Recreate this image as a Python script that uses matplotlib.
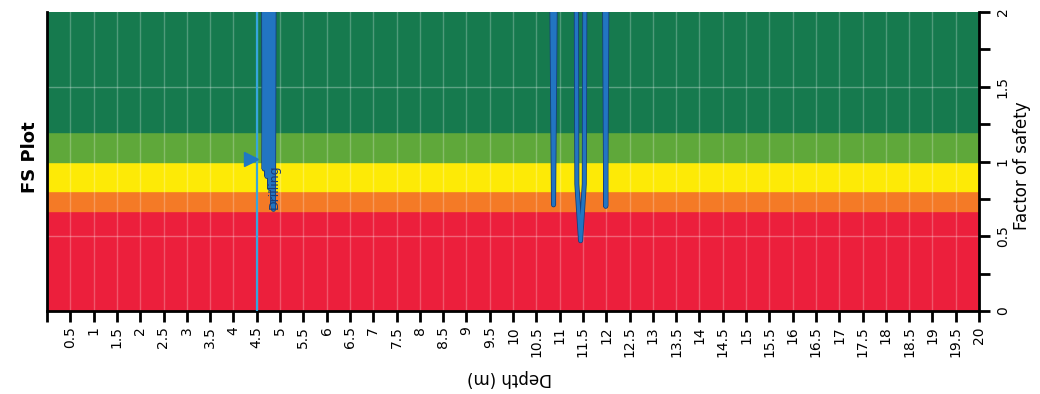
import numpy as np
import matplotlib.pyplot as plt
import matplotlib.patheffects as pe

# Factor-of-safety zones (FS limits and fill colours)
zone_edges = [0.0, 0.67, 0.8, 1.0, 1.2, 2.0]
zone_colors = ['#ec1f3c', '#f47a26', '#fdea06', '#5fa83a', '#167a4e']

# FS profile against depth; 3.0 means FS above the plotted range
depth = [4.64, 4.66, 4.69, 4.72, 4.75, 4.78, 4.81, 4.84, 4.86, 4.88,
         10.81, 10.87, 10.93,
         11.35, 11.37, 11.45, 11.53, 11.55,
         11.95, 11.99, 12.03]
fs = [3.0, 0.95, 2.6, 0.90, 2.6, 0.82, 2.5, 0.72, 0.68, 3.0,
      3.0, 0.71, 3.0,
      3.0, 0.85, 0.47, 0.85, 3.0,
      3.0, 0.70, 3.0]

gwt_depth = 4.5          # ground water table
gwt_label = 'Drilling'

depth_ticks = np.arange(0, 20.01, 0.5)
depth_labels = [''] + ['%g' % d for d in depth_ticks[1:]]
fs_ticks = [0, 0.5, 1, 1.5, 2]

fig = plt.figure(figsize=(10.4, 3.94), dpi=100)
ax = fig.add_axes([47 / 1040, 1 - 311 / 394, 932 / 1040, 299 / 394])

# coloured FS zones
for lo, hi, c in zip(zone_edges[:-1], zone_edges[1:], zone_colors):
    ax.axhspan(lo, hi, color=c, zorder=0)

# grid
for d in depth_ticks[1:-1]:
    ax.axvline(d, color='white', alpha=0.25, lw=1, zorder=1)
for f in [0.5, 1.5]:
    ax.axhline(f, color='white', alpha=0.3, lw=1, zorder=1)

# water table line and marker
ax.axvline(gwt_depth, color='#35a6dc', lw=1.6, zorder=3)
ax.plot(gwt_depth - 0.12, 1.02, marker='>', ms=10, color='#1f78c4', zorder=4)
ax.text(gwt_depth + 0.38, 0.68, gwt_label, rotation=90, ha='center', va='bottom',
        fontsize=9, color='#1a3c78', zorder=5)

# FS curve
ax.plot(depth, fs, color='#2275c2', lw=2.4, zorder=4, solid_joinstyle='round',
        path_effects=[pe.Stroke(linewidth=3.6, foreground='#173f7c'), pe.Normal()])

ax.set_xlim(0, 20)
ax.set_ylim(0, 2)

ax.set_xticks(depth_ticks)
ax.set_xticklabels(depth_labels, rotation=90, fontsize=10)
ax.tick_params(axis='x', direction='out', length=8, width=2, pad=3)

ax.yaxis.tick_right()
ax.set_yticks(fs_ticks)
ax.set_yticklabels(['%g' % f for f in fs_ticks], rotation=90, va='center', fontsize=10)
ax.set_yticks([0.25, 0.75, 1.25, 1.75], minor=True)
ax.tick_params(axis='y', which='both', direction='out', length=8, width=2, pad=4)

ax.spines['top'].set_visible(False)
for s in ['left', 'right', 'bottom']:
    ax.spines[s].set_linewidth(2)

fig.text(0.029, 0.60, 'FS Plot', rotation=90, ha='center', va='center',
         fontsize=13, fontweight='bold')
fig.text(0.983, 0.58, 'Factor of safety', rotation=90, ha='center', va='center',
         fontsize=12)
fig.text(0.49, 0.04, 'Depth (m)', rotation=180, ha='center', va='center',
         fontsize=12)

fig.savefig('out.png', dpi=100)
